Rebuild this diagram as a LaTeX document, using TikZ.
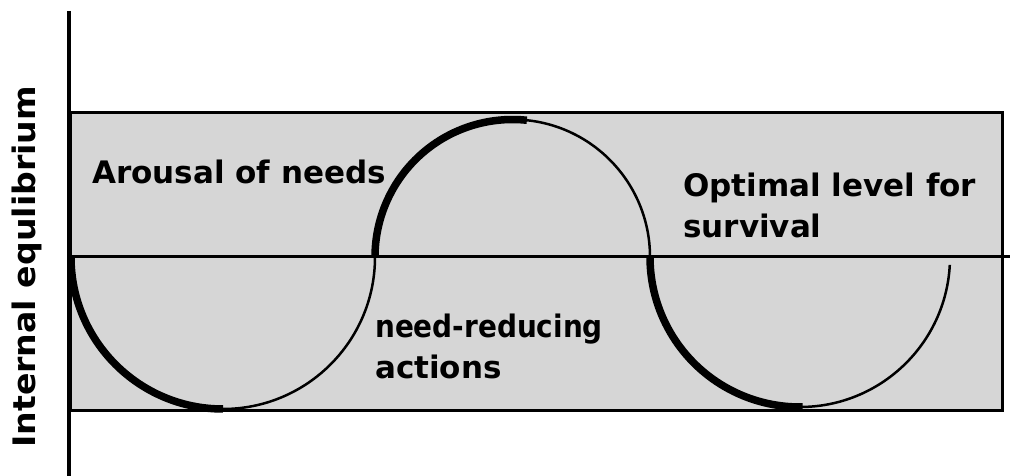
\documentclass[tikz,border=0pt]{standalone}
\usepackage{fontspec}
\setmainfont{DejaVu Sans}
\definecolor{bandgray}{gray}{0.84}
\begin{document}
\begin{tikzpicture}[x=1pt,y=1pt,
  lbl/.style={font=\bfseries\fontsize{31}{41}\selectfont, inner sep=0pt, anchor=base west},
  thin curve/.style={line width=2.5pt},
  thick curve/.style={line width=7.5pt, line cap=butt},
  frame/.style={line width=3pt}]
\useasboundingbox (0,0) rectangle (1010,476);
% band
\node[draw=black, fill=bandgray, line width=3pt, inner sep=0pt, minimum width=932pt, minimum height=298pt, anchor=south west] (band) at (69,64) {};
% axis
\coordinate (axtop) at (69,465);
\coordinate (axbot) at (69,0);
\draw[line width=4pt] (axtop) -- (axbot);
% optimal level line
\coordinate (midL) at (69,219);
\coordinate (midR) at (1010,219);
\draw[frame] (midL) -- (midR);
% curve: thin full arcs
\coordinate (c0) at (71,219);
\coordinate (c1) at (375,219);
\coordinate (c2) at (650,219);
\draw[thin curve] (c0) arc[start angle=180, end angle=360, radius=152]
  arc[start angle=180, end angle=0, radius=137.5]
  arc[start angle=180, end angle=357, radius=150];
% thick segments
\draw[thick curve] (c0) arc[start angle=180, end angle=270, radius=152];
\draw[thick curve] (c1) arc[start angle=180, end angle=84, radius=137.5];
\draw[thick curve] (c2) arc[start angle=180, end angle=271, radius=150];
% labels
\node[lbl] (arousal) at (92,292) {Arousal of needs};
\node[lbl] (opt1) at (683,279) {Optimal level for};
\node[lbl] (opt2) at (683,238) {survival};
\node[lbl] (need1) at (375,138) {\scalebox{0.9}[1]{need-reducing}};
\node[lbl] (need2) at (375,97) {actions};
\node[lbl, rotate=90] (ylab) at (35,28) {\scalebox{1.07}[1]{Internal equlibrium}};
\end{tikzpicture}
\end{document}
